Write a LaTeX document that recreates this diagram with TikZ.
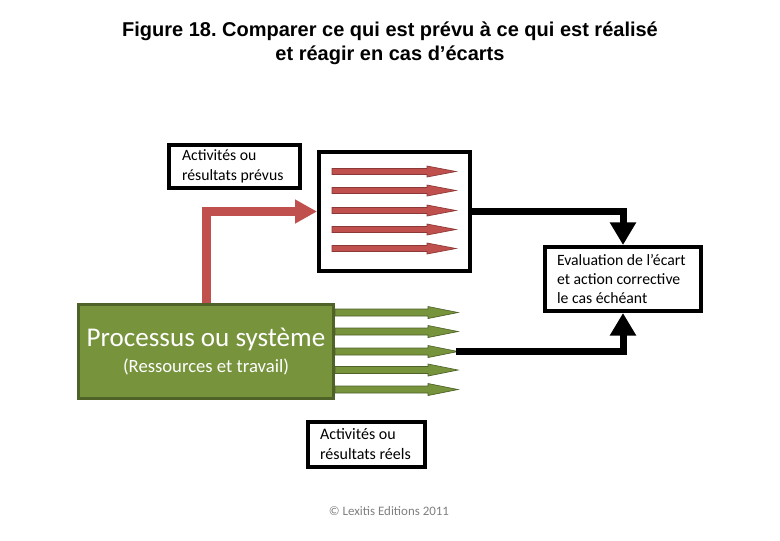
\documentclass[tikz,border=0pt]{standalone}
\usepackage{fontspec}
\setmainfont{Carlito}
\newfontfamily\titlefont{Liberation Sans}
\usetikzlibrary{arrows.meta}
\definecolor{arrred}{RGB}{192,80,77}
\definecolor{arrredline}{RGB}{140,56,54}
\definecolor{procgreen}{RGB}{119,147,60}
\definecolor{procgreenline}{RGB}{79,98,40}
\definecolor{copygray}{RGB}{128,128,128}
\begin{document}
\begin{tikzpicture}[x=0.75pt,y=-0.75pt,
  blackbox/.style={draw=black,line width=3pt,fill=white,inner ysep=0pt,align=flush left},
  smallred/.style={fill=arrred,draw=arrredline,line width=0.5pt},
  smallgreen/.style={fill=procgreen,draw=procgreenline,line width=0.5pt},
  redconn/.style={draw=arrred,line width=6.75pt,-{Triangle[width=17pt,length=16.5pt]}},
  blackconn/.style={draw=black,line width=5.25pt,-{Triangle[width=18.75pt,length=17pt]}}]
\useasboundingbox[fill=white] (0,0) rectangle (780,540);

\node[font=\titlefont\bfseries\fontsize{15}{18}\selectfont,align=center] (title) at (390,43)
  {Figure 18.\ Comparer ce qui est prévu à ce qui est réalisé\\et réagir en cas d’écarts};

% boxes
\node[blackbox,inner xsep=13*0.75pt,text width=105*0.75pt,minimum height=43*0.75pt,
  font=\fontsize{11.8}{15}\selectfont] (prevlabel) at (234.5,166.5)
  {Activités ou\\résultats prévus};
\node[blackbox,minimum width=151*0.75pt,minimum height=119*0.75pt,inner sep=0pt] (prevus) at (394.5,211.5) {};
\node[blackbox,inner xsep=12*0.75pt,text width=132*0.75pt,minimum height=64*0.75pt,
  font=\fontsize{11.8}{14.6}\selectfont] (eval) at (623,279)
  {Evaluation de l’écart\\et action corrective\\le cas échéant};
\node[blackbox,inner xsep=12*0.75pt,text width=93*0.75pt,minimum height=45*0.75pt,
  font=\fontsize{12}{15}\selectfont] (reels) at (366.5,444.5)
  {Activités ou\\résultats réels};
\node[draw=procgreenline,fill=procgreen,line width=2.25pt,inner sep=0pt,
  minimum width=255*0.75pt,minimum height=94*0.75pt,text=white,align=center] (proc) at (206,351.5)
  {{\fontsize{20.3}{24}\selectfont Processus ou système}\\[5pt]{\fontsize{14}{16}\selectfont (Ressources et travail)}};

% small red arrows inside the planned box
\foreach \y in {171.5,190.5,210.5,229.5,248.5}
  \filldraw[smallred] (332,\y-3) -- (427,\y-3) -- (427,\y-5.5) -- (456,\y)
    -- (427,\y+5.5) -- (427,\y+3) -- (332,\y+3) -- cycle;

% small green arrows out of the process
\foreach \y in {312.5,331.5,351.5,370,389.5}
  \filldraw[smallgreen] (335,\y-3.5) -- (428,\y-3.5) -- (428,\y-6) -- (458,\y)
    -- (428,\y+6) -- (428,\y+3.5) -- (335,\y+3.5) -- cycle;
\coordinate (gtip) at (456,351.5);

% connectors
\draw[redconn] (proc.north) |- (prevus.west);
\draw[blackconn] (prevus.east) -| (eval.north);
\draw[blackconn] (gtip) -| (eval.south);

\node[text=copygray,font=\fontsize{9.7}{11}\selectfont] (copy) at (389,511) {© Lexitis Editions 2011};
\end{tikzpicture}
\end{document}
